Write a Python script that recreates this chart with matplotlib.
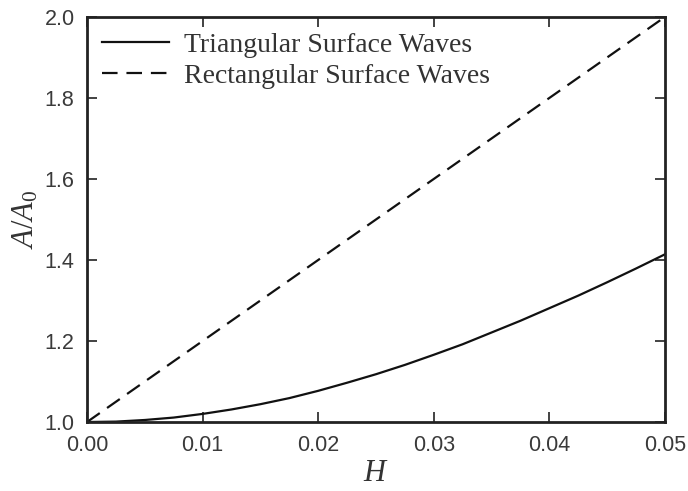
import numpy as np
import matplotlib
matplotlib.use("Agg")
import matplotlib.pyplot as plt

plt.rcParams["mathtext.fontset"] = "custom"
plt.rcParams["mathtext.it"] = "Liberation Serif:italic"
plt.rcParams["mathtext.rm"] = "Liberation Serif"

# values
H = [0.0, 0.0025, 0.005, 0.0075, 0.01, 0.0125, 0.015, 0.0175, 0.02, 0.0225, 0.025,
     0.0275, 0.03, 0.0325, 0.035, 0.0375, 0.04, 0.0425, 0.045, 0.0475, 0.05]
tri = [1.000, 1.001, 1.005, 1.011, 1.020, 1.031, 1.044, 1.059, 1.077, 1.097, 1.118,
       1.141, 1.166, 1.192, 1.221, 1.250, 1.281, 1.312, 1.345, 1.379, 1.414]
H_rect = [0.0, 0.05]
rect = [1.0, 2.0]

xticks = [0.00, 0.01, 0.02, 0.03, 0.04, 0.05]
yticks = [1.0, 1.2, 1.4, 1.6, 1.8, 2.0]

fig = plt.figure(figsize=(6.88, 4.91), dpi=100)
ax = fig.add_axes([0.1265, 0.1405, 0.84, 0.825])

ax.plot(H, tri, color="#111111", lw=1.6, label="Triangular Surface Waves")
ax.plot(H_rect, rect, color="#111111", lw=1.6, dashes=(7, 4), label="Rectangular Surface Waves")

ax.set_xlim(0, 0.05)
ax.set_ylim(1.0, 2.0)
ax.set_xticks(xticks)
ax.set_yticks(yticks)
ax.set_xticklabels([f"{v:.2f}" for v in xticks], family="Liberation Sans", fontsize=15.5)
ax.set_yticklabels([f"{v:.1f}" for v in yticks], family="Liberation Sans", fontsize=15.5)
ax.tick_params(direction="in", length=7, width=1.2, top=True, right=True,
               colors="#222222", labelcolor="#3a3a3a")
ax.tick_params(axis="x", pad=9)
ax.tick_params(axis="y", pad=9)
for s in ax.spines.values():
    s.set_linewidth(2)
    s.set_color("#222222")

ax.set_xlabel("$H$", fontsize=22, labelpad=2, color="#333333")
ax.set_ylabel("$A/A_0$", fontsize=22, labelpad=3, color="#333333")

leg = ax.legend(loc="upper left", frameon=False, handlelength=2.4,
                prop={"family": "Liberation Serif", "size": 20},
                borderaxespad=0.25, borderpad=0.3, labelspacing=0.2, handletextpad=0.55)
for t in leg.get_texts():
    t.set_color("#333333")

fig.savefig("out.png", dpi=100)
